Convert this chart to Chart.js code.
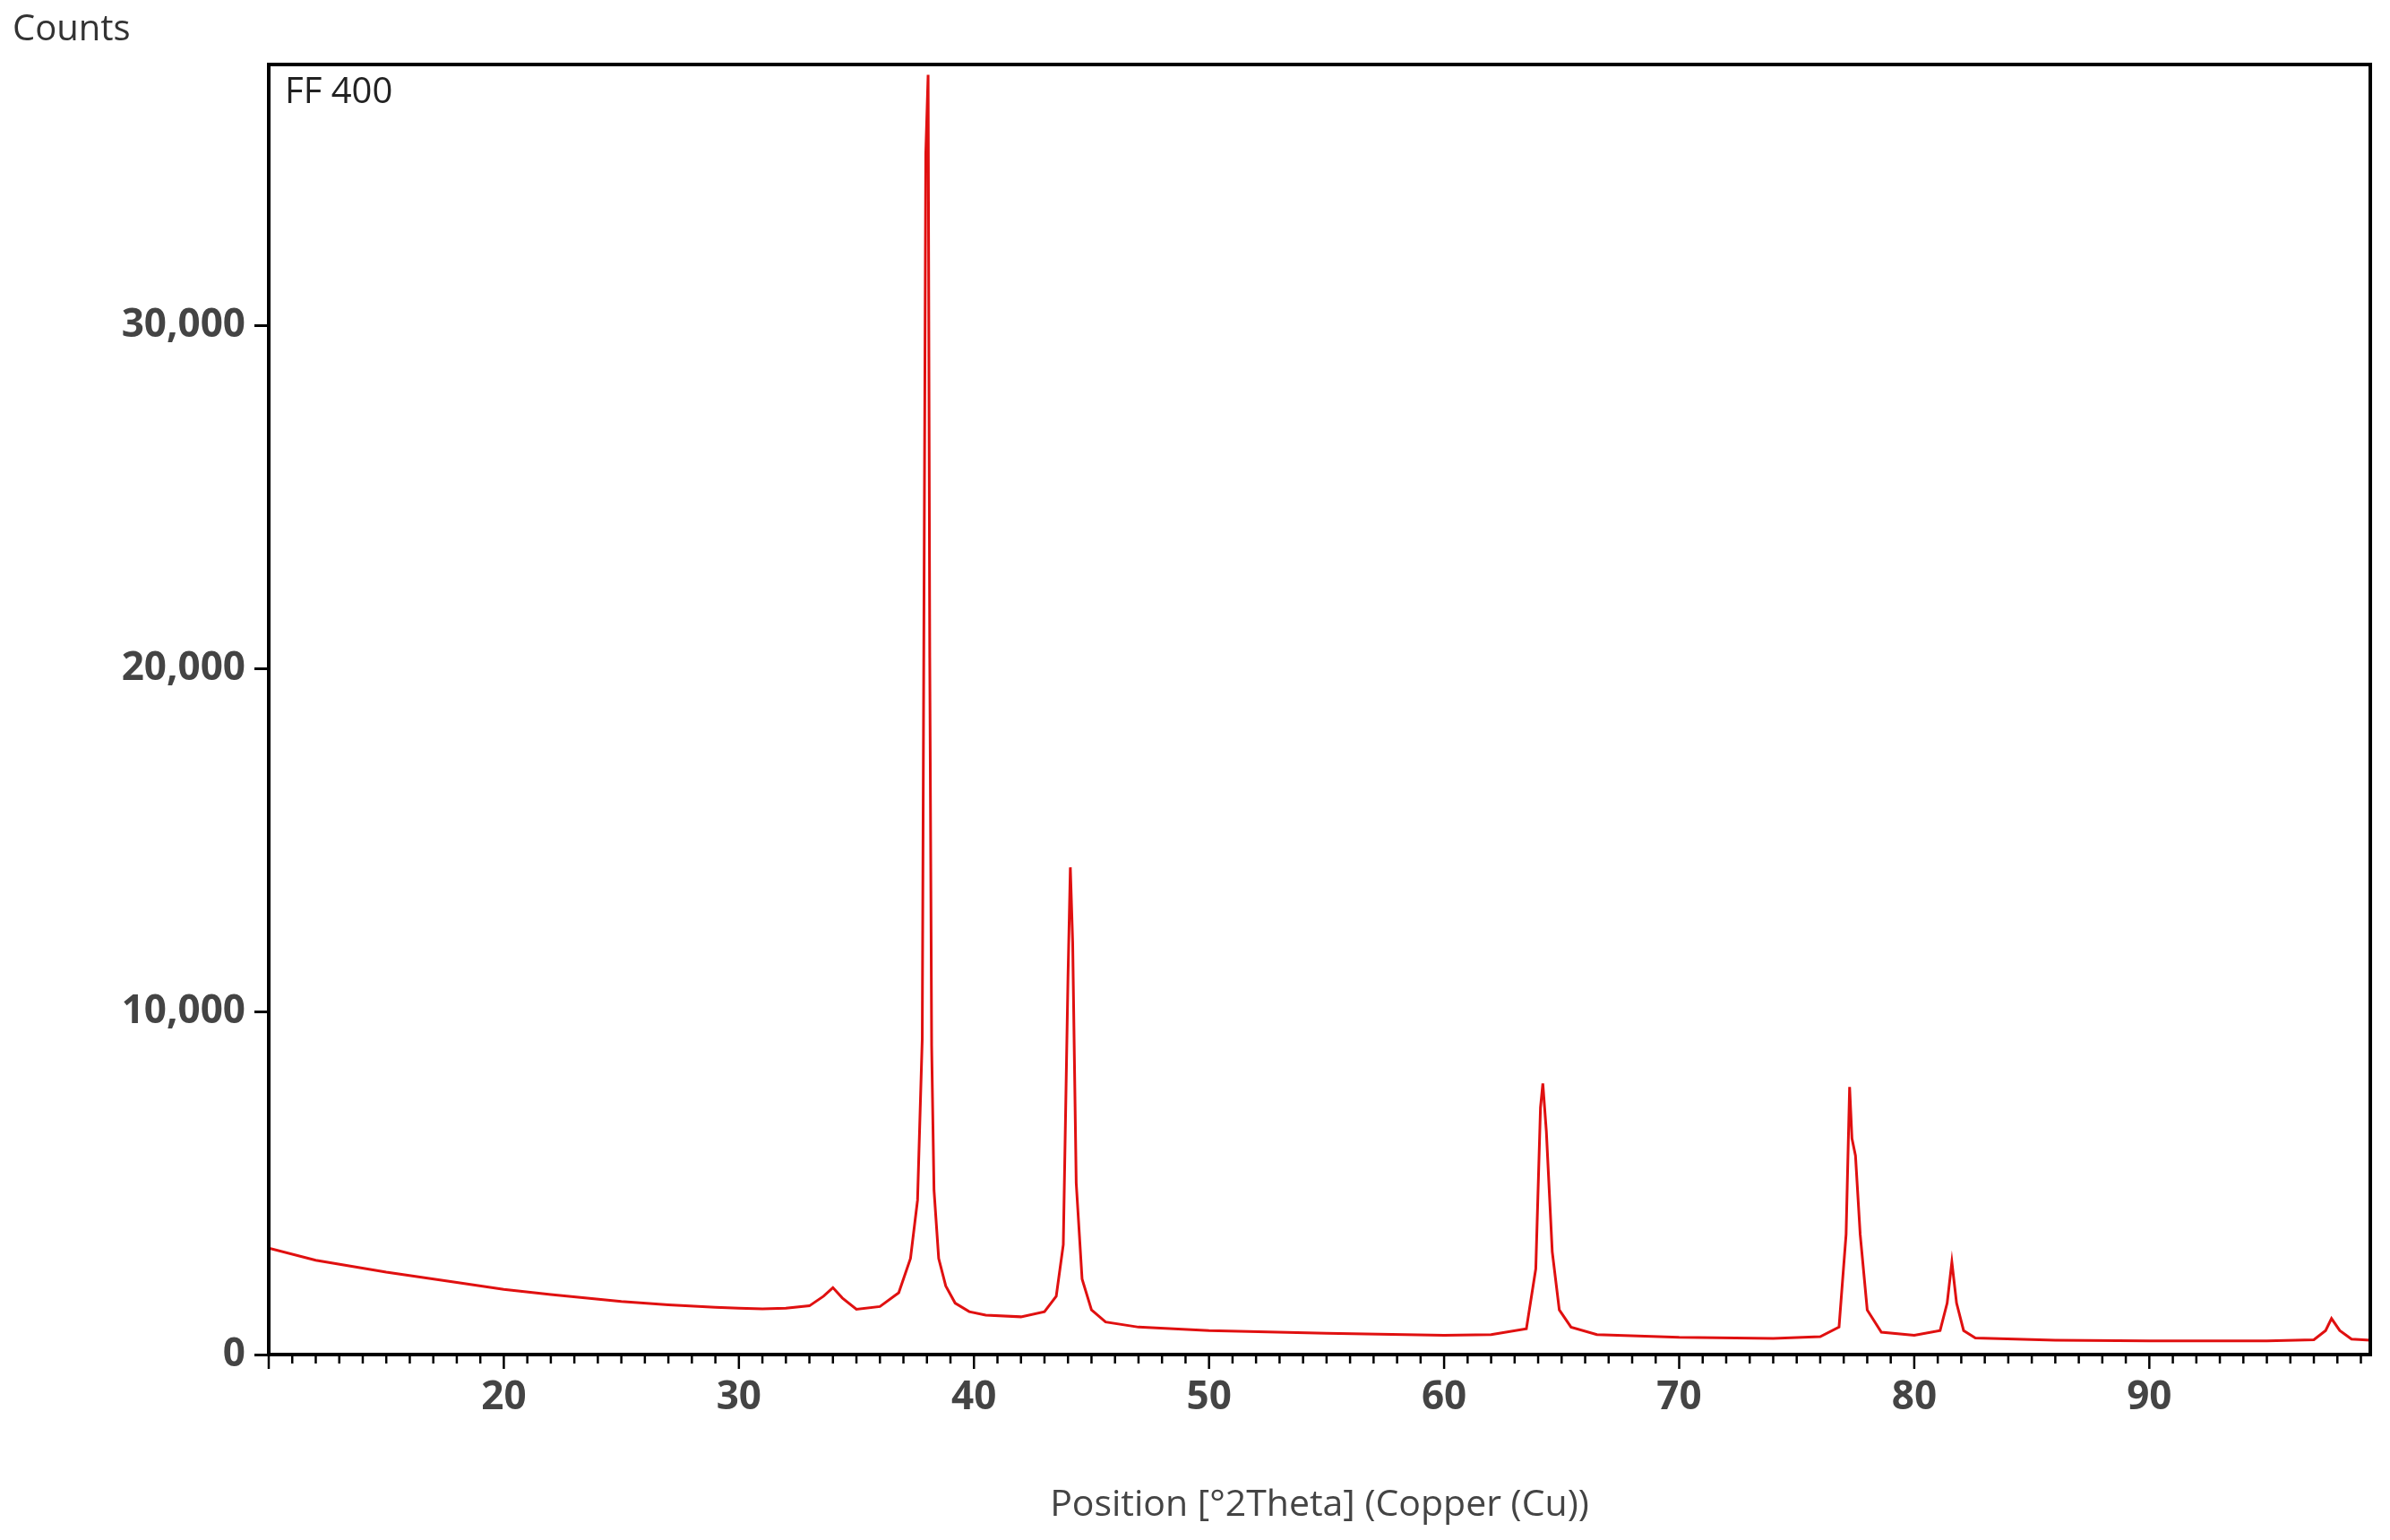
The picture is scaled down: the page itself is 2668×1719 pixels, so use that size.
<!DOCTYPE html>
<html><head><meta charset="utf-8">
<script src="https://cdn.jsdelivr.net/npm/chart.js@4/dist/chart.umd.min.js"></script>
<style>html,body{margin:0;padding:0;background:#fff}</style>
</head><body>
<canvas id="c" width="2668" height="1719"></canvas>
<script>
const positions = [10,12,15,18,20,22,25,27,29,30,31,32,33,33.6,34,34.4,35,36,36.8,37.3,37.6,37.8,37.95,38.05,38.12,38.2,38.3,38.5,38.8,39.2,39.8,40.5,42,43,43.5,43.8,44.0,44.1,44.2,44.35,44.6,45,45.6,47,50,55,60,62,63.5,63.9,64.1,64.2,64.35,64.6,64.9,65.4,66.5,70,74,76,76.8,77.1,77.25,77.35,77.5,77.7,78,78.6,80,81.1,81.4,81.6,81.8,82.1,82.6,86,90,95,97,97.5,97.75,98.1,98.6,99.4];
const counts    = [3100,2750,2400,2100,1900,1750,1550,1450,1380,1350,1330,1350,1420,1700,1950,1650,1320,1400,1800,2800,4500,9200,35000,37300,20300,9000,4800,2800,2000,1500,1250,1150,1100,1250,1700,3200,11000,14200,12000,5000,2200,1300,950,800,700,620,560,580,750,2500,7200,7900,6500,3000,1300,800,580,500,470,520,800,3500,7800,6300,5800,3500,1300,650,560,700,1500,2700,1500,700,480,420,400,400,430,700,1050,700,450,420];
const xTickStep = 10;
const yTicks = [0,10000,20000,30000];

const frame = {
  id:'frame',
  afterDraw(chart){
    const {ctx, chartArea:a, scales:{x}} = chart;
    ctx.save();
    ctx.strokeStyle='#000'; ctx.lineWidth=4;
    ctx.strokeRect(a.left,a.top,a.right-a.left,a.bottom-a.top);
    ctx.lineWidth=2.5;
    for(let v=Math.ceil(x.min); v<=x.max; v++){
      const px=x.getPixelForValue(v);
      const len = v%10===0 ? 16 : 10;
      ctx.beginPath(); ctx.moveTo(px,a.bottom); ctx.lineTo(px,a.bottom+len); ctx.stroke();
    }
    ctx.fillStyle='#222'; ctx.font='40px "Open Sans", "DejaVu Sans", sans-serif';
    ctx.textBaseline='top';
    ctx.fillText('FF 400', a.left+18, a.top+12);
    ctx.fillStyle='#333';
    ctx.fillText('Counts', 14, 14);
    ctx.restore();
  }
};

new Chart(document.getElementById('c'), {
  type:'line',
  data:{datasets:[{data:positions.map((p,i)=>({x:p,y:counts[i]})), borderColor:'#e01010', borderWidth:3, pointRadius:0, tension:0, fill:false}]},
  options:{
    responsive:false, animation:false, devicePixelRatio:1,
    layout:{padding:{left:0,top:72,right:15,bottom:10}},
    plugins:{legend:{display:false},tooltip:{enabled:false}},
    scales:{
      x:{type:'linear', min:10, max:99.4,
        afterFit(s){s.height=197;},
        grid:{display:false, drawTicks:false},
        border:{display:false},
        ticks:{stepSize:xTickStep, padding:22, color:'#444', font:{size:44, weight:'bold', family:'"Open Sans", sans-serif'},
          callback:v=> (v%10===0 && v>10) ? v : ''},
        title:{display:true, text:'Position [°2Theta] (Copper (Cu))', color:'#444', font:{size:41, family:'"Open Sans", sans-serif'}, padding:{top:20}}
      },
      y:{min:0, max:37600,
        afterFit(s){s.width=300;},
        afterBuildTicks(s){s.ticks=yTicks.map(v=>({value:v}));},
        grid:{display:true, drawOnChartArea:false, tickLength:16, tickWidth:3, tickColor:'#000'},
        border:{display:false},
        ticks:{padding:10, color:'#444', font:{size:44, weight:'bold', family:'"Open Sans", sans-serif'},
          callback:v=>v.toLocaleString('en-US')}
      }
    }
  },
  plugins:[frame]
});
</script>
</body></html>
